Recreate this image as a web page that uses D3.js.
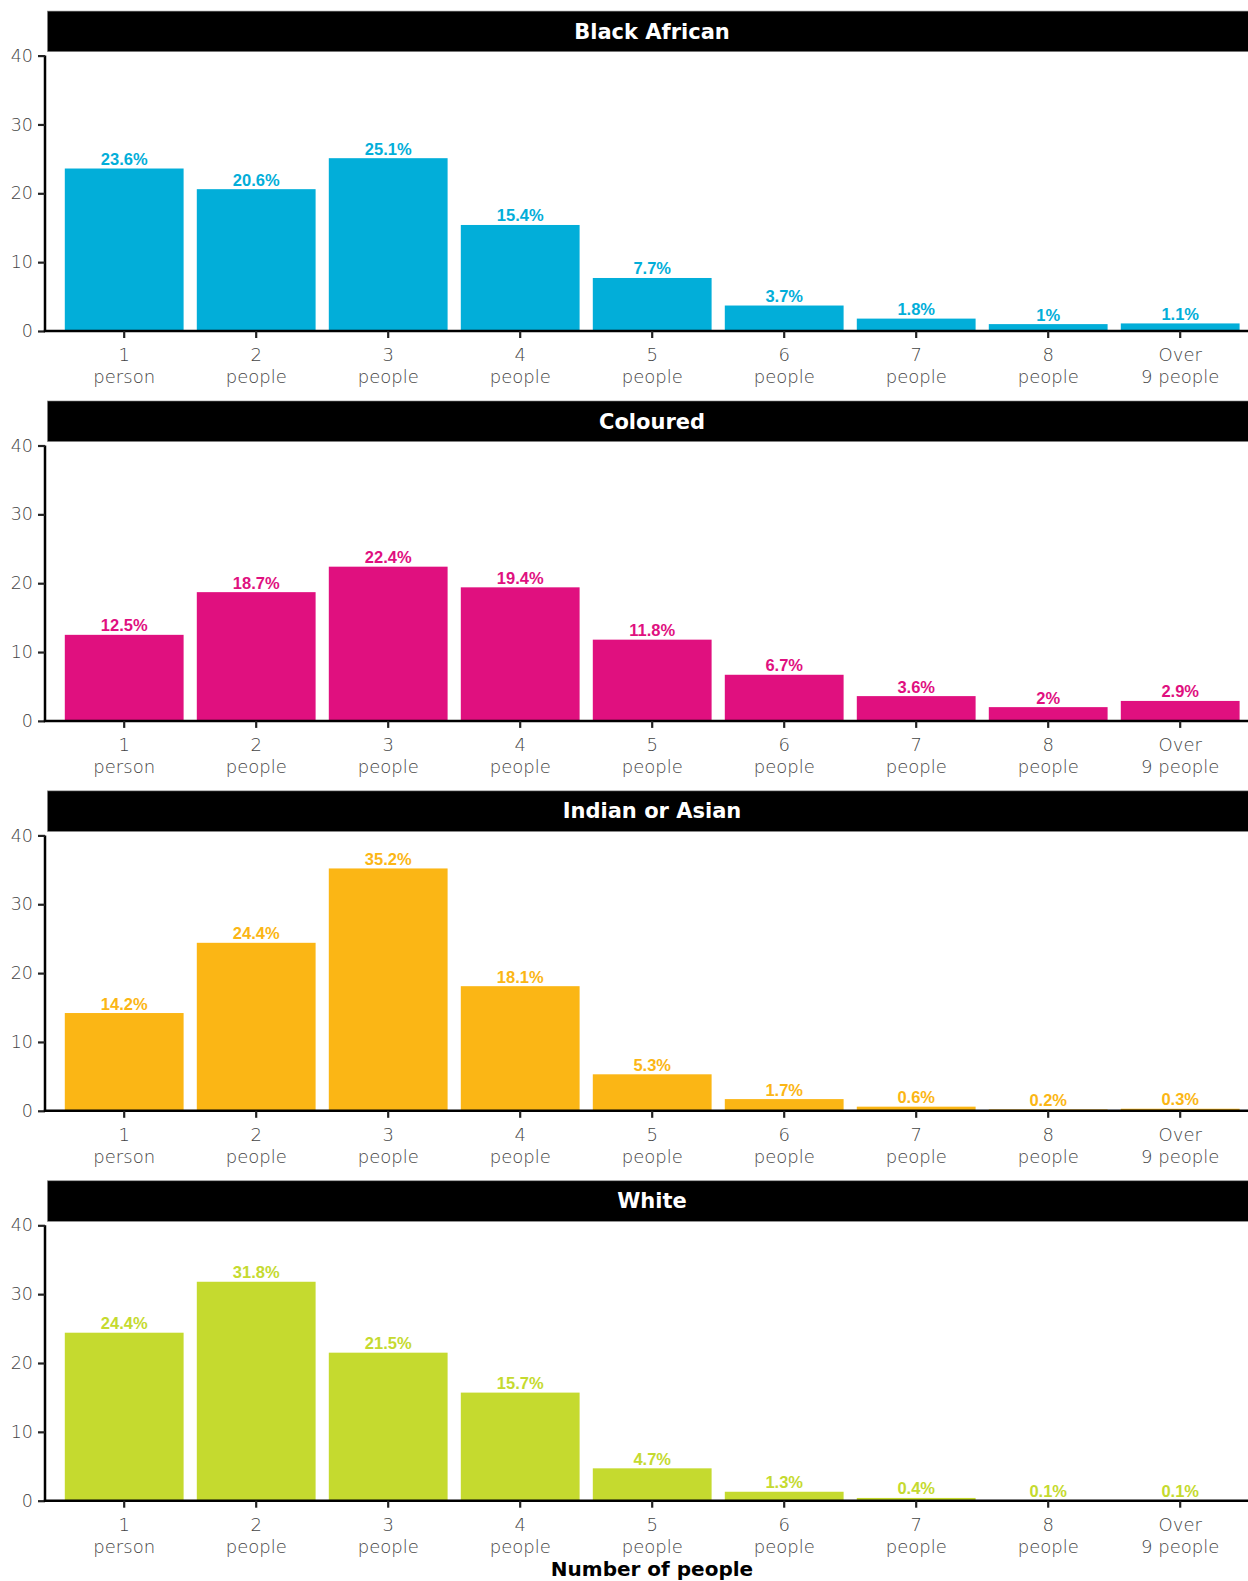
<!DOCTYPE html>
<html>
<head>
<meta charset="utf-8">
<script src="https://cdn.jsdelivr.net/npm/d3@7"></script>
<style>
  html, body { margin: 0; padding: 0; background: #fff; }
  svg { display: block; }
</style>
</head>
<body>
<svg id="chart" width="1248" height="1581"></svg>
<script>
// Household size by population group (percent of households)
const categories = ["1|person", "2|people", "3|people", "4|people", "5|people",
                    "6|people", "7|people", "8|people", "Over|9 people"];
const groups = ["Black African", "Coloured", "Indian or Asian", "White"];
const blackAfrican = [23.6, 20.6, 25.1, 15.4, 7.7, 3.7, 1.8, 1, 1.1];
const coloured     = [12.5, 18.7, 22.4, 19.4, 11.8, 6.7, 3.6, 2, 2.9];
const indianAsian  = [14.2, 24.4, 35.2, 18.1, 5.3, 1.7, 0.6, 0.2, 0.3];
const white        = [24.4, 31.8, 21.5, 15.7, 4.7, 1.3, 0.4, 0.1, 0.1];
const yTicks = [0, 10, 20, 30, 40];
const colours = ["#02AED9", "#E0107F", "#FBB615", "#C5DA2F"];
const seriesValues = [blackAfrican, coloured, indianAsian, white];

const svg = d3.select("#chart");

const panelLeft = 45, panelRight = 1259.4;
const firstZero = 331, panelStep = 389.9, panelHeight = 275.4;
const tickFont = "'DejaVu Sans', sans-serif";
const tickColour = "#444";

// discrete scale: 0.6 band units of expansion beyond the outer centres
const x = d3.scaleBand()
  .domain(categories)
  .range([panelLeft, panelRight])
  .paddingInner(0.1)
  .paddingOuter(0.15);

groups.forEach((name, i) => {
  const zero = firstZero + i * panelStep;
  const top = zero - panelHeight;
  const y = d3.scaleLinear().domain([0, 40]).range([zero, top]);
  const g = svg.append("g");
  const values = seriesValues[i];

  // strip header
  g.append("rect")
    .attr("x", 47.5).attr("y", top - 44.5)
    .attr("width", 1260 - 47.5).attr("height", 40.5)
    .attr("fill", "#000").attr("stroke", "#7f7f7f").attr("stroke-width", 0.6);
  g.append("text")
    .attr("x", 652)
    .attr("y", top - 24.5)
    .attr("dy", "0.36em")
    .attr("text-anchor", "middle")
    .attr("fill", "#fff")
    .attr("font-family", "'DejaVu Sans', sans-serif")
    .attr("font-weight", "bold")
    .attr("font-size", 21)
    .text(name);

  // bars
  g.selectAll("rect.bar")
    .data(values)
    .join("rect")
    .attr("class", "bar")
    .attr("x", (d, j) => x(categories[j]))
    .attr("width", x.bandwidth())
    .attr("y", d => y(d))
    .attr("height", d => y(0) - y(d))
    .attr("fill", colours[i]);

  // value labels
  g.selectAll("text.val")
    .data(values)
    .join("text")
    .attr("class", "val")
    .attr("x", (d, j) => x(categories[j]) + x.bandwidth() / 2)
    .attr("y", d => y(d) - 3.5)
    .attr("text-anchor", "middle")
    .attr("fill", colours[i])
    .attr("font-family", "'Liberation Sans', Arial, sans-serif")
    .attr("font-weight", "bold")
    .attr("font-size", 16.5)
    .text(d => d + "%");

  // y axis
  const yAxis = g.append("g")
    .attr("transform", `translate(${panelLeft},0)`)
    .call(d3.axisLeft(y).tickValues(yTicks).tickSize(7).tickPadding(5));
  yAxis.select(".domain").attr("stroke", "#000").attr("stroke-width", 2.5)
    .attr("d", `M0,${top}V${zero}`);
  yAxis.selectAll(".tick line").attr("stroke", "#222").attr("stroke-width", 2.2);
  yAxis.selectAll(".tick text")
    .attr("fill", tickColour)
    .attr("font-family", tickFont)
    .attr("font-weight", 300)
    .attr("font-size", 17.5);

  // x axis
  const xAxis = g.append("g")
    .attr("transform", `translate(0,${zero})`)
    .call(d3.axisBottom(x).tickSize(7).tickSizeOuter(0));
  xAxis.select(".domain").attr("stroke", "#000").attr("stroke-width", 2.5)
    .attr("d", `M${panelLeft - 1.2},0H1260`);
  xAxis.selectAll(".tick line").attr("stroke", "#222").attr("stroke-width", 2.2);
  xAxis.selectAll(".tick text").each(function(d) {
    const t = d3.select(this).text(null)
      .attr("y", 0).attr("dy", null)
      .attr("fill", tickColour)
      .attr("font-family", tickFont)
      .attr("font-weight", 300)
      .attr("font-size", 18);
    d.split("|").forEach((line, k) => {
      t.append("tspan").attr("x", 0).attr("y", 30 + k * 22).text(line);
    });
  });
});

// shared x axis title
svg.append("text")
  .attr("x", 652)
  .attr("y", 1576)
  .attr("text-anchor", "middle")
  .attr("fill", "#000")
  .attr("font-family", "'DejaVu Sans', sans-serif")
  .attr("font-weight", "bold")
  .attr("font-size", 20)
  .text("Number of people");
</script>
</body>
</html>
